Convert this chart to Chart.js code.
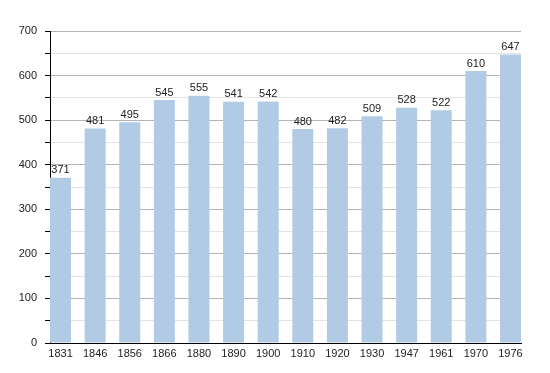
<!DOCTYPE html>
<html>
<head>
<meta charset="utf-8">
<script src="https://cdn.jsdelivr.net/npm/chart.js@4/dist/chart.umd.min.js"></script>
<style>
  html, body { margin: 0; padding: 0; background: #fff; }
  #wrap { width: 550px; height: 373px; position: relative; }
</style>
</head>
<body>
<div id="wrap"><canvas id="popChart"></canvas></div>
<script>
// census years and population
const years = ['1831', '1846', '1856', '1866', '1880', '1890', '1900', '1910', '1920', '1930', '1947', '1961', '1970', '1976'];
const population = [371, 481, 495, 545, 555, 541, 542, 480, 482, 509, 528, 522, 610, 647];
const yTicks = [0, 100, 200, 300, 400, 500, 600, 700];

const barColor = '#b1cbe5';
const fontFamily = '"Liberation Sans", Arial, sans-serif';

// value labels above each bar
const valueLabels = {
  id: 'valueLabels',
  afterDatasetsDraw(chart) {
    const ctx = chart.ctx;
    const meta = chart.getDatasetMeta(0);
    ctx.save();
    ctx.font = '11px ' + fontFamily;
    ctx.fillStyle = '#222';
    ctx.textAlign = 'center';
    ctx.textBaseline = 'bottom';
    meta.data.forEach((bar, i) => {
      ctx.fillText(String(population[i]), bar.x, bar.y - 2);
    });
    ctx.restore();
  }
};

// half a bar on each side so the first and last bars sit on the frame
const halfBar = 0.304;

new Chart(document.getElementById('popChart'), {
  type: 'bar',
  data: {
    datasets: [{
      data: population.map((v, i) => ({ x: i, y: v })),
      backgroundColor: barColor,
      borderWidth: 0,
      categoryPercentage: 1,
      barPercentage: 0.607
    }]
  },
  options: {
    responsive: true,
    maintainAspectRatio: false,
    animation: false,
    layout: { padding: { top: 31, right: 29, left: 0, bottom: 0 } },
    plugins: { legend: { display: false }, tooltip: { enabled: false } },
    scales: {
      x: {
        type: 'linear',
        offset: false,
        min: -halfBar,
        max: years.length - 1 + halfBar,
        afterBuildTicks: (scale) => { scale.ticks = years.map((_, i) => ({ value: i })); },
        afterFit: (scale) => { scale.height = 30; },
        grid: { display: false, drawTicks: false },
        border: { display: true, color: '#000', width: 1 },
        ticks: {
          autoSkip: false,
          maxRotation: 0,
          padding: 4,
          color: '#222',
          font: { family: fontFamily, size: 11 },
          callback: (v) => years[v]
        }
      },
      y: {
        min: 0,
        max: 700,
        afterBuildTicks: (scale) => {
          const t = [];
          for (let v = 0; v <= 700; v += 50) t.push({ value: v });
          scale.ticks = t;
        },
        afterFit: (scale) => { scale.width = 50; },
        grid: {
          color: (c) => (c.tick && c.tick.value % 100 === 0) ? '#b4b4b4' : '#e4e4e4',
          tickColor: '#000',
          tickLength: 5
        },
        border: { display: true, color: '#000', width: 1 },
        ticks: {
          padding: 8,
          color: '#222',
          font: { family: fontFamily, size: 11 },
          callback: (v) => yTicks.includes(v) ? String(v) : ''
        }
      }
    }
  },
  plugins: [valueLabels]
});
</script>
</body>
</html>
